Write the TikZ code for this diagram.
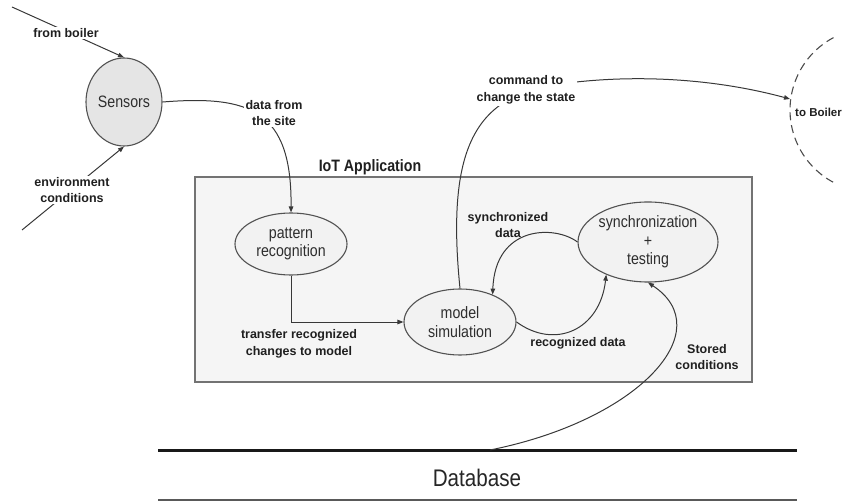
\documentclass[tikz,border=0pt]{standalone}
\usepackage{fontspec}
\setmainfont{Liberation Sans}
\newfontfamily\narrowsans[FakeStretch=0.86]{Liberation Sans}
\usetikzlibrary{arrows.meta,shapes.geometric}

\begin{document}
\begin{tikzpicture}[x=1pt,y=-1pt,
  line/.style={draw=black!78, line width=1pt},
  arr/.style={line, -{Triangle[length=6pt,width=4.5pt]}},
  ell/.style={ellipse, draw=black!68, line width=1.1pt, fill=black!5,
    inner sep=0pt, align=center, text=black!82,
    font=\narrowsans\fontsize{16.5}{18.5}\selectfont},
  lab/.style={font=\bfseries\fontsize{12.5}{16.5}\selectfont, align=center,
    text=black!88, inner sep=1.5pt},
  wlab/.style={lab, fill=white},
]
\useasboundingbox (0,0) rectangle (845,502);

% application frame
\node[draw=black!55, line width=1.3pt, fill=black!4, minimum width=557pt,
  minimum height=205pt, inner sep=0pt] (app) at (473.5,279.5) {};
\node[font=\narrowsans\bfseries\fontsize{16.5}{18}\selectfont, text=black!88]
  (apptitle) at (370,167) {IoT Application};

% processes
\node[ell, fill=black!10, minimum width=76pt, minimum height=88pt] (sensors) at (124,102) {Sensors};
\node[ell, minimum width=112pt, minimum height=62pt] (pattern) at (291,244) {pattern\\recognition};
\node[ell, minimum width=112pt, minimum height=66pt] (model) at (460,322) {model\\simulation};
\node[ell, minimum width=140pt, minimum height=80pt] (sync) at (648,242) {synchronization\\+\\testing};

% external boiler
\draw[black!70, line width=1.1pt, dash pattern=on 8pt off 5pt]
  (872,110) ++(118:82pt) arc[start angle=118, end angle=242, radius=82pt];
\node[lab, font=\bfseries\fontsize{11.5}{14}\selectfont, anchor=west, inner sep=1pt]
  (boilerlab) at (794,112) {to Boiler};

% free ends
\coordinate (fb) at (12,7);
\coordinate (env) at (22,230);
\coordinate (tb) at (790,99);
\coordinate (db) at (490,450);

% inputs to the sensors
\draw[arr] (fb) -- (sensors.north);
\node[wlab] (fblab) at (66,33) {from boiler};
\draw[arr] (env) -- (sensors.south);
\node[wlab] (envlab) at (72,190) {environment\\conditions};

% data flow
\draw[arr] (sensors.east) .. controls (250,95) and (292,110) .. (pattern.north);
\node[wlab] (sitelab) at (274,113) {data from\\the site};

\draw[arr] (pattern.south) |- (model.west);
\node[lab] (tlab) at (299,344) {transfer recognized\\changes to model};

\draw[arr] (model.east) .. controls (555,350) and (600,330) .. (sync.218);
\node[lab] (rlab) at (578,343) {recognized data};

\draw[arr] (sync.west) .. controls (555,225) and (495,225) .. (model.40);
\node[lab] (slab) at (508,225) {synchronized\\data};

\draw[arr] (model.north) .. controls (445,140) and (480,95) .. (560,84)
  .. controls (640,73) and (720,80) .. (tb);
\node[wlab] (clab) at (526,90) {command to\\change the state};

% database
\coordinate (dbl) at (158,450);
\coordinate (dbr) at (797,450);
\coordinate (dbbl) at (158,500);
\coordinate (dbbr) at (797,500);
\draw[black!90, line width=3pt] (dbl) -- (dbr);
\draw[black!65, line width=1.5pt] (dbbl) -- (dbbr);
\node[font=\narrowsans\fontsize{24}{26}\selectfont, text=black!85] (dbtext) at (477,478) {Database};

\draw[arr] (db) .. controls (640,420) and (720,330) .. (sync.south);
\node[lab] (stlab) at (707,357) {Stored\\conditions};
\end{tikzpicture}
\end{document}
